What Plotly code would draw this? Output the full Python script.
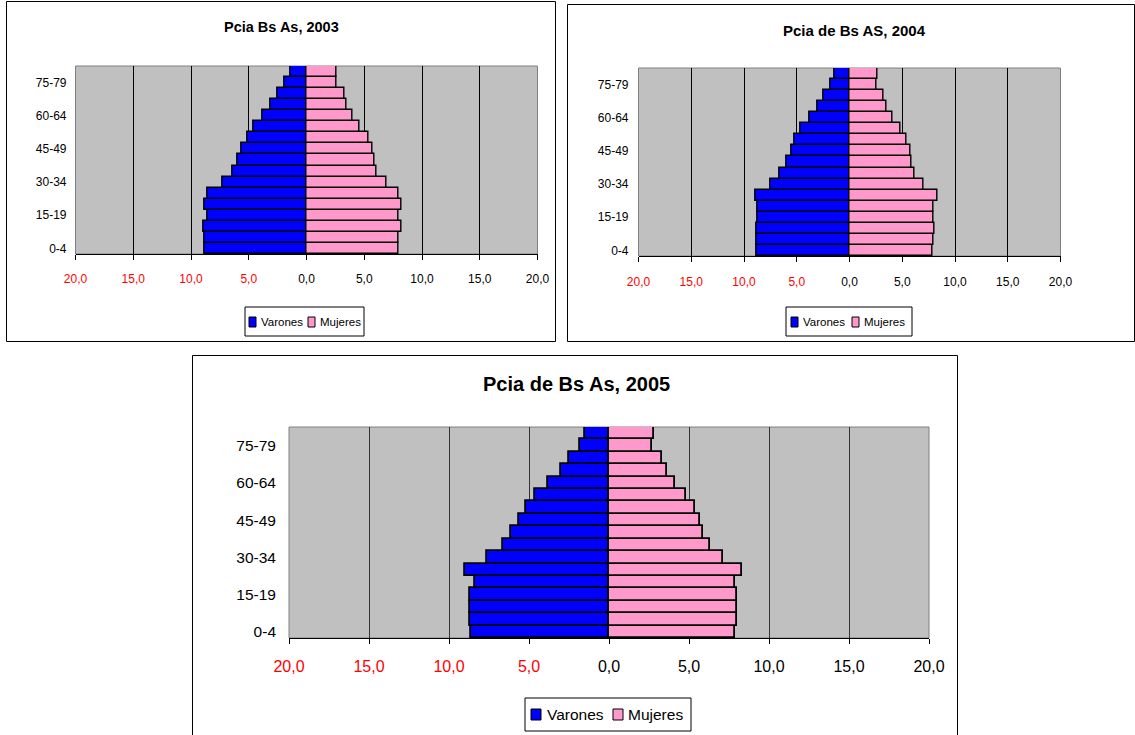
import plotly.graph_objects as go

# ---------------- data ----------------
ages = ['0-4', '5-9', '10-14', '15-19', '20-24', '25-29', '30-34', '35-39', '40-44',
        '45-49', '50-54', '55-59', '60-64', '65-69', '70-74', '75-79', '80 y más']
age_ticks = ['0-4', '15-19', '30-34', '45-49', '60-64', '75-79']

varones_2003 = [8.8, 8.8, 8.9, 8.6, 8.8, 8.6, 7.3, 6.4, 6.0, 5.6, 5.1, 4.6, 3.8, 3.1, 2.5, 1.9, 1.4]
mujeres_2003 = [8.0, 8.0, 8.2, 8.0, 8.2, 8.0, 6.9, 6.1, 5.9, 5.7, 5.4, 4.6, 4.0, 3.5, 3.3, 2.6, 2.6]

varones_2004 = [8.8, 8.8, 8.8, 8.7, 8.7, 8.9, 7.5, 6.6, 6.0, 5.5, 5.2, 4.6, 3.8, 3.0, 2.5, 1.8, 1.4]
mujeres_2004 = [7.9, 8.0, 8.1, 8.0, 8.0, 8.3, 7.0, 6.2, 5.9, 5.8, 5.4, 4.8, 4.1, 3.5, 3.2, 2.6, 2.7]

varones_2005 = [8.6, 8.7, 8.7, 8.7, 8.4, 9.0, 7.6, 6.6, 6.1, 5.6, 5.2, 4.6, 3.8, 3.0, 2.5, 1.8, 1.5]
mujeres_2005 = [7.9, 8.0, 8.0, 8.0, 7.9, 8.3, 7.1, 6.3, 5.9, 5.7, 5.4, 4.8, 4.1, 3.6, 3.3, 2.7, 2.8]

titles = ['Pcia Bs As, 2003', 'Pcia de Bs AS, 2004', 'Pcia de Bs As, 2005']
x_tickvals = [-20, -15, -10, -5, 0, 5, 10, 15, 20]
x_ticklabels = ['20,0', '15,0', '10,0', '5,0', '0,0', '5,0', '10,0', '15,0', '20,0']
legend_names = ['Varones', 'Mujeres']

# ---------------- layout helpers ----------------
W, H = 1135, 735
FONT = 'Liberation Sans, Arial, sans-serif'
BLUE = '#0000FF'
PINK = '#FF99CC'


def px(x):
    return x / W


def py(y):
    return 1 - y / H


panels = [
    dict(frame=(6.5, 1.5, 555.5, 341.5), plot=(75.5, 66, 537.5, 254), title=(281, 27, 14.5),
         ytick=12, xtick=12, grid='#000000', lw=1.4, ystand=8, xstand=9,
         legend=dict(box=(245, 307, 364, 336), sq1=(249, 256), sq2=(308, 315), t1=259, t2=318, sy=(317, 327), fs=11.5)),
    dict(frame=(567.5, 4.5, 1134.5, 341.5), plot=(638.5, 68, 1060.5, 256), title=(854, 30, 15),
         ytick=12, xtick=12, grid='#000000', lw=1.4, ystand=9, xstand=10,
         legend=dict(box=(786, 307, 912, 336), sq1=(791, 798), sq2=(852, 859), t1=801, t2=862, sy=(317, 327), fs=11.5)),
    dict(frame=(192.5, 355.5, 957.5, 740), plot=(289, 427, 929, 638), title=(576, 384, 20),
         ytick=15.5, xtick=16, grid='#333333', lw=1.8, ystand=12, xstand=9,
         legend=dict(box=(525, 698, 691, 731), sq1=(531, 541), sq2=(613, 623), t1=545, t2=626, sy=(709, 720), fs=15.5)),
]

series = [(varones_2003, mujeres_2003), (varones_2004, mujeres_2004), (varones_2005, mujeres_2005)]

fig = go.Figure()
shapes = []
annotations = []
layout_axes = {}

for i, (p, (var, muj)) in enumerate(zip(panels, series)):
    n = '' if i == 0 else str(i + 1)
    xa, ya = 'x' + n, 'y' + n
    fig.add_trace(go.Bar(
        y=ages, x=[-v for v in var], orientation='h', name=legend_names[0],
        marker=dict(color=BLUE, line=dict(color='black', width=p['lw'])),
        xaxis=xa, yaxis=ya, showlegend=False,
        customdata=var, hovertemplate='%{y}: %{customdata}<extra>Varones</extra>'))
    fig.add_trace(go.Bar(
        y=ages, x=muj, orientation='h', name=legend_names[1],
        marker=dict(color=PINK, line=dict(color='black', width=p['lw'])),
        xaxis=xa, yaxis=ya, showlegend=False,
        hovertemplate='%{y}: %{x}<extra>Mujeres</extra>'))

    x0, y0, x1, y1 = p['plot']
    ticktext = [('<span style="color:#FF0000">%s</span>' % t) if v < 0 else t
                for v, t in zip(x_tickvals, x_ticklabels)]
    layout_axes['xaxis' + n] = dict(
        domain=[px(x0), px(x1)], anchor=ya, range=[-20, 20], automargin=False,
        tickmode='array', tickvals=x_tickvals, ticktext=ticktext,
        showgrid=True, gridcolor=p['grid'], gridwidth=1, zeroline=False,
        showline=True, linecolor='black', linewidth=1,
        ticks='outside', ticklen=5, tickcolor='black', tickwidth=1,
        tickfont=dict(family=FONT, size=p['xtick'], color='black'),
        ticklabelstandoff=p['xstand'], fixedrange=True)
    layout_axes['yaxis' + n] = dict(
        domain=[py(y1), py(y0)], anchor=xa, type='category', automargin=False,
        categoryorder='array', categoryarray=ages, range=[-0.5, len(ages) - 0.5],
        tickmode='array', tickvals=age_ticks, ticktext=age_ticks,
        showgrid=False, zeroline=False, showline=False, ticks='',
        tickfont=dict(family=FONT, size=p['ytick'], color='black'),
        ticklabelstandoff=p['ystand'], fixedrange=True)

    # plot area border (grey)
    shapes.append(dict(type='rect', xref=xa + ' domain', yref=ya + ' domain',
                       x0=0, x1=1, y0=0, y1=1, line=dict(color='#808080', width=1), layer='below'))
    # outer frame
    fx0, fy0, fx1, fy1 = p['frame']
    shapes.append(dict(type='rect', xref='paper', yref='paper',
                       x0=px(fx0), x1=px(fx1), y0=py(fy1), y1=py(fy0),
                       line=dict(color='black', width=1), fillcolor='rgba(0,0,0,0)', layer='below'))
    # title
    tx, ty, ts = p['title']
    annotations.append(dict(xref='paper', yref='paper', x=px(tx), y=py(ty), text=titles[i],
                            showarrow=False, xanchor='center', yanchor='middle',
                            font=dict(family=FONT, size=ts, color='black', weight='bold')))
    # legend (box, swatches, labels)
    lg = p['legend']
    bx0, by0, bx1, by1 = lg['box']
    shapes.append(dict(type='rect', xref='paper', yref='paper',
                       x0=px(bx0), x1=px(bx1), y0=py(by1), y1=py(by0),
                       line=dict(color='black', width=1), fillcolor='white'))
    sy0, sy1 = lg['sy']
    for (sx0, sx1), col in ((lg['sq1'], BLUE), (lg['sq2'], PINK)):
        shapes.append(dict(type='rect', xref='paper', yref='paper',
                           x0=px(sx0), x1=px(sx1), y0=py(sy1), y1=py(sy0),
                           line=dict(color='black', width=1), fillcolor=col))
    cy = (by0 + by1) / 2
    for tx_, name in ((lg['t1'], legend_names[0]), (lg['t2'], legend_names[1])):
        annotations.append(dict(xref='paper', yref='paper', x=px(tx_), y=py(cy), text=name,
                                showarrow=False, xanchor='left', yanchor='middle',
                                font=dict(family=FONT, size=lg['fs'], color='black')))

fig.update_layout(
    width=W, height=H, margin=dict(l=0, r=0, t=0, b=0, pad=0, autoexpand=False),
    paper_bgcolor='white', plot_bgcolor='#C0C0C0',
    barmode='relative', bargap=0,
    shapes=shapes, annotations=annotations, showlegend=False,
    font=dict(family=FONT, color='black'),
    **layout_axes)

fig.write_html('out.html', config={'displayModeBar': False},
               post_script="document.body.style.margin='0';document.body.style.overflow='hidden';")
